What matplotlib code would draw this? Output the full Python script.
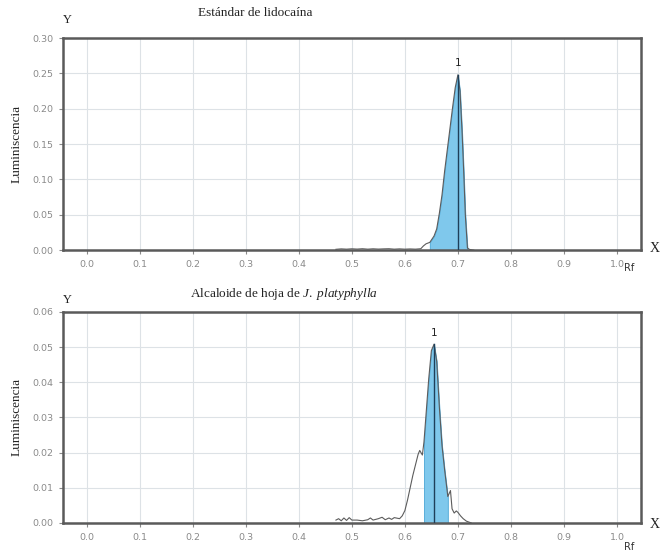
import numpy as np
import matplotlib
matplotlib.use("Agg")
import matplotlib.pyplot as plt

plt.rcParams["mathtext.fontset"] = "custom"
plt.rcParams["mathtext.it"] = "Liberation Serif:italic"
plt.rcParams["mathtext.rm"] = "Liberation Serif"

# standard (lidocaine) densitogram
rf_std = [0.47, 0.48, 0.49, 0.50, 0.51, 0.52, 0.53, 0.54, 0.55, 0.56, 0.57, 0.58, 0.59,
          0.60, 0.61, 0.62, 0.63, 0.635, 0.64, 0.647, 0.655, 0.66, 0.665, 0.67, 0.675,
          0.68, 0.685, 0.69, 0.695, 0.70, 0.704, 0.708, 0.711, 0.714, 0.718, 0.722, 0.73]
lum_std = [0.0012, 0.0018, 0.0014, 0.0019, 0.0015, 0.0020, 0.0014, 0.0019, 0.0015, 0.0018,
           0.0020, 0.0014, 0.0018, 0.0014, 0.0017, 0.0014, 0.0020, 0.0060, 0.0090, 0.0110,
           0.020, 0.030, 0.052, 0.078, 0.112, 0.142, 0.172, 0.202, 0.230, 0.248, 0.225,
           0.165, 0.110, 0.050, 0.003, 0.001, 0.0]
std_band = (0.647, 0.718)
std_peak = 0.70

# leaf alkaloid densitogram
rf_alc = [0.47, 0.475, 0.48, 0.485, 0.49, 0.495, 0.50, 0.51, 0.52, 0.53, 0.535, 0.54,
          0.55, 0.557, 0.563, 0.57, 0.575, 0.58, 0.59, 0.595, 0.60, 0.605, 0.61, 0.615,
          0.62, 0.625, 0.628, 0.633, 0.636, 0.64, 0.645, 0.65, 0.655, 0.66, 0.665, 0.67,
          0.675, 0.681, 0.684, 0.686, 0.689, 0.693, 0.697, 0.70, 0.705, 0.71, 0.716, 0.725]
lum_alc = [0.0008, 0.0012, 0.0006, 0.0014, 0.0007, 0.0015, 0.0008, 0.0008, 0.0006, 0.0009,
           0.0014, 0.0008, 0.0012, 0.0016, 0.0009, 0.0014, 0.0010, 0.0015, 0.0012, 0.0020,
           0.0035, 0.0065, 0.0100, 0.0135, 0.0165, 0.0195, 0.0206, 0.0193, 0.0230, 0.0310,
           0.0410, 0.0490, 0.0508, 0.0460, 0.0330, 0.0220, 0.0150, 0.0075, 0.0085, 0.0092,
           0.0040, 0.0028, 0.0034, 0.0030, 0.0020, 0.0012, 0.0005, 0.0]
alc_band = (0.636, 0.681)
alc_peak = 0.655

x_ticks = [0.0, 0.1, 0.2, 0.3, 0.4, 0.5, 0.6, 0.7, 0.8, 0.9, 1.0]
std_yticks = [0.00, 0.05, 0.10, 0.15, 0.20, 0.25, 0.30]
alc_yticks = [0.00, 0.01, 0.02, 0.03, 0.04, 0.05, 0.06]

SERIF = "Liberation Serif"
TICK_C = "#8a8a8a"
FILL_C = "#7fc8ec"
LINE_C = "#1e3f5a"

fig = plt.figure(figsize=(6.62, 5.51), dpi=100)


def draw_panel(ax, rf, lum, band, peak, yticks):
    rf = np.array(rf)
    lum = np.array(lum)
    ax.set_xlim(-0.045, 1.045)
    ax.set_ylim(yticks[0], yticks[-1])
    ax.set_xticks(x_ticks)
    ax.set_xticklabels([f"{t:.1f}" for t in x_ticks])
    ax.set_yticks(yticks)
    ax.set_yticklabels([f"{t:.2f}" for t in yticks])
    ax.grid(True, color="#dde2e6", lw=0.8)
    ax.set_axisbelow(True)
    ax.tick_params(labelsize=6.8, colors=TICK_C, length=3, width=0.8, pad=4)
    for s in ax.spines.values():
        s.set_color("#5a5a5a")
        s.set_linewidth(1.8)

    mask = (rf >= band[0]) & (rf <= band[1])
    ax.fill_between(rf, 0, lum, where=mask, color=FILL_C, edgecolor="#4aa6d6",
                    lw=0.6, zorder=2)
    ax.plot(rf, lum, color="#5c5c5c", lw=0.8, zorder=3)
    top = lum[np.argmin(np.abs(rf - peak))]
    ax.plot([peak, peak], [0, top], color=LINE_C, lw=1.0, zorder=4)
    ax.text(peak, top + (yticks[-1] * 0.03), "1", ha="center", va="bottom",
            fontsize=7.5, color="#222222")
    ax.set_ylabel("Luminiscencia", fontfamily=SERIF, fontsize=9.5, color="#222222",
                  labelpad=7)


ax1 = fig.add_axes([0.095, 0.546, 0.873, 0.385])
draw_panel(ax1, rf_std, lum_std, std_band, std_peak, std_yticks)
ax2 = fig.add_axes([0.095, 0.051, 0.873, 0.383])
draw_panel(ax2, rf_alc, lum_alc, alc_band, alc_peak, alc_yticks)

# titles and axis letters
fig.text(255 / 662, 1 - 13 / 551, "Estándar de lidocaína", fontfamily=SERIF,
         fontsize=9.5, ha="center", va="center", color="#222222")
fig.text(190 / 662, 1 - 294 / 551, "Alcaloide de hoja de $\\it{J.\\ platyphylla}$",
         fontfamily=SERIF, fontsize=9.5, ha="left", va="center", color="#222222")

for ytop, ybot in [(20, 249), (300, 524)]:
    fig.text(67 / 662, 1 - ytop / 551, "Y", fontfamily=SERIF, fontsize=9,
             ha="center", va="center", color="#222222")
    fig.text(655 / 662, 1 - ybot / 551, "X", fontfamily=SERIF, fontsize=10,
             ha="center", va="center", color="#222222")
fig.text(629 / 662, 1 - 268 / 551, "Rf", fontsize=7, ha="center", va="center",
         color="#333333")
fig.text(629 / 662, 1 - 547 / 551, "Rf", fontsize=7, ha="center", va="center",
         color="#333333")

fig.savefig("out.png", dpi=100)
